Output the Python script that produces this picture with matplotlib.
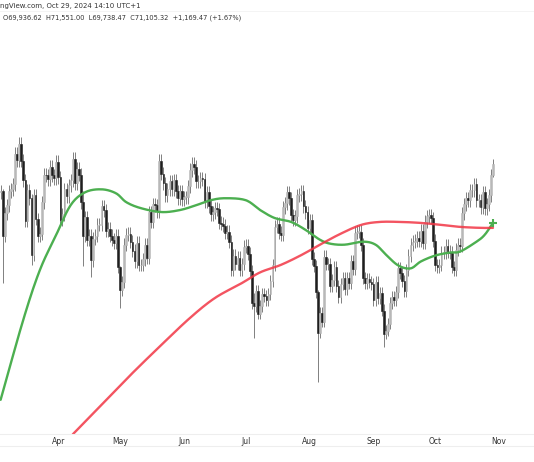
import matplotlib
matplotlib.use("Agg")
import matplotlib.pyplot as plt
import numpy as np

# Daily closes, Mar 4 2024 .. Oct 29 2024 (day index 0 = Mar 4)
closes = [
 68300,63800,66100,66900,68300,68500,69000,72100,71500,73100,71400,69400,65300,68400,67600,61900,67900,65500,63800,64000,67200,70000,69900,69500,70800,69900,69600,71300,
 69700,65400,66000,68500,67800,68900,69400,71600,69100,70600,70000,67200,63800,65700,63400,63800,61300,63500,63800,64900,64900,66800,66400,64300,64500,63800,63400,63100,63800,60600,
 58300,59100,62900,63900,64000,63200,62300,61200,63100,60800,60800,61400,62900,61600,66200,65200,67000,66900,66300,71400,70100,69100,67900,68500,69300,68500,69400,68300,67600,68300,67500,
 67700,67700,68800,70500,71100,70800,69300,69300,69600,69500,67300,68200,66800,66000,66200,66600,66500,65100,65000,64800,64100,64200,63200,60300,61800,60900,61600,60300,60900,62700,
 62800,62000,60200,57000,56700,58200,55900,56700,57900,57700,57300,57900,59200,60800,64700,65000,64100,63900,66700,67100,68200,67600,65900,65400,65800,67900,68000,68300,66800,66200,64600,
 65400,61500,60700,58100,54000,56000,55100,61700,60900,60900,58700,59300,60600,58700,57600,58900,59500,58400,59500,59000,61200,60400,64100,64200,64200,62900,59500,59000,59400,59100,58900,
 57300,59100,57500,58000,56200,53900,54200,54900,57000,57600,57300,58100,60500,60000,59200,58200,60300,61800,62900,63200,63300,63600,63300,64300,63100,65200,65800,65900,65600,63300,
 60800,60600,60800,62100,62100,62800,62200,62100,60600,60300,62400,62900,62800,66100,67000,67600,67400,68400,68400,69000,67400,67400,66700,68200,66600,67000,67900,69900,71100]
first_open = 68200
# notable extreme wicks: (day index, high, low)
wick_overrides = {1: (68500, 59000), 10: (73800, 70800), 15: (68000, 60800), 40: (68300, 60700),
                  44: (64500, 59600), 58: (60700, 56500), 123: (58000, 53500), 154: (58300, 49000),
                  186: (56900, 52500), 239: (71550, 69740)}

green_days = [0,11,19,27,34,41,49,56,61,68,78,87,95,102,109,119,126,133,141,148,155,160,167,176,182,187,193,199,204,211,218,223,231,235,239]
green_vals = [47200,55300,60300,63900,66900,68200,68500,68100,67200,66600,66200,66400,66900,67400,67600,67400,66400,65600,65200,64400,63400,63000,62900,63200,62900,61900,60800,60500,61200,61800,62100,62200,63200,63900,65100]
red_days = [35,49,63,78,92,104,117,126,136,146,155,165,175,184,194,204,214,223,233,239]
red_vals = [43700,46700,49700,52750,55500,57500,59000,60100,60850,61850,62900,64000,64900,65200,65200,65100,64900,64700,64600,64600]

month_labels = ["Apr","May","Jun","Jul","Aug","Sep","Oct","Nov"]
month_days = [28,58,89,119,150,181,211,242]


def smooth(xs, ys, n=12):
    # Catmull-Rom curve through the given points (rendering only)
    xs = np.asarray(xs, float); ys = np.asarray(ys, float)
    P = np.column_stack([xs, ys])
    P = np.vstack([2*P[0]-P[1], P, 2*P[-1]-P[-2]])
    out = []
    t = np.linspace(0, 1, n, endpoint=False)[:, None]
    for i in range(1, len(P)-2):
        p0, p1, p2, p3 = P[i-1], P[i], P[i+1], P[i+2]
        out.append(0.5*((2*p1) + (-p0+p2)*t + (2*p0-5*p1+4*p2-p3)*t**2 + (-p0+3*p1-3*p2+p3)*t**3))
    out.append(P[-2][None, :])
    out = np.vstack(out)
    return out[:, 0], out[:, 1]


fig = plt.figure(figsize=(5.34,4.62), dpi=100)
H = 462
ax = fig.add_axes([0, 1-434/H, 1, 434/H])
ax.set_xlim(-0.3, 534/2.06-0.3)
ax.set_ylim(43740, 87660)
ax.axis("off")

prev = first_open
for i, c in enumerate(closes):
    o = prev
    hi, lo = max(o, c)*1.01, min(o, c)*0.99
    if i in wick_overrides:
        hi, lo = wick_overrides[i]
    up = c >= o
    col = "#b8b8b8" if up else "#1e1e1e"
    ax.vlines(i, lo, hi, color="#808080", lw=0.7, zorder=1)
    ax.bar(i, max(abs(c-o), 80), bottom=min(o, c), width=0.8, color=col, edgecolor=col, lw=0.4, zorder=2)
    prev = c

gx, gy = smooth(green_days, green_vals)
rx, ry = smooth(red_days, red_vals)
ax.plot(gx, gy, color="#4caf50", lw=1.7, zorder=3, solid_capstyle="round")
ax.plot(rx, ry, color="#f23645", lw=1.7, alpha=0.85, zorder=3, solid_capstyle="round")
ax.plot([green_days[-1]], [green_vals[-1]], marker="+", color="#4caf50", ms=6, mew=1.5, zorder=4)

for y in (434, 446):
    fig.add_artist(plt.Line2D([0,1],[1-y/H,1-y/H], color="#eeeeee", lw=0.8))
fig.add_artist(plt.Line2D([0,1],[1-11/H,1-11/H], color="#f2f2f2", lw=0.6))
for lab, d in zip(month_labels, month_days):
    fig.text(2.06*(d+0.3)/534, 1-441/H, lab, ha="center", va="center", fontsize=5.5, color="#333333")

fig.text(0.0, 1-6/H, "ngView.com, Oct 29, 2024 14:10 UTC+1", fontsize=5, color="#333333", va="center")
fig.text(0.005, 1-18/H, "O69,936.62  H71,551.00  L69,738.47  C71,105.32  +1,169.47 (+1.67%)", fontsize=4.8, color="#333333", va="center")

fig.savefig("out.png", dpi=100)
